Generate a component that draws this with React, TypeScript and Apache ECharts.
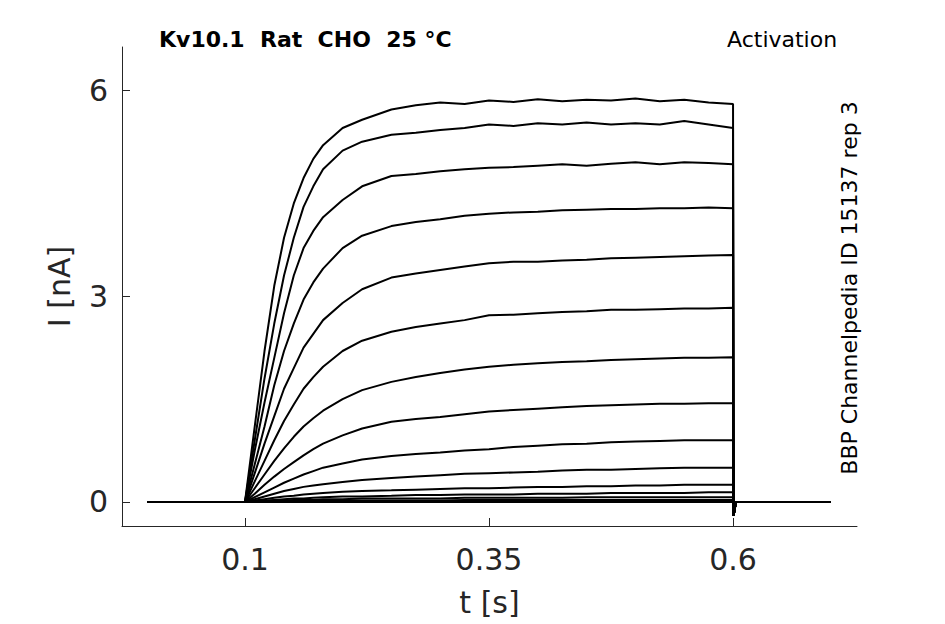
import { useEffect, useRef } from 'react';
import * as echarts from 'echarts';

const times = [
  0, 0.05, 0.1, 0.11, 0.12, 0.13, 0.14, 0.15, 0.16, 0.17, 0.18, 0.2, 0.22, 0.25,
  0.275, 0.3, 0.325, 0.35, 0.375, 0.4, 0.425, 0.45, 0.475, 0.5, 0.525, 0.55, 0.575, 0.6,
];

// current (nA) per voltage step, top trace first
const trace1 = [0, 0, 0, 1.1, 2.2, 3.15, 3.85, 4.35, 4.72, 5.0, 5.2, 5.45, 5.57, 5.72, 5.78, 5.82, 5.8, 5.85, 5.83, 5.87, 5.84, 5.86, 5.85, 5.88, 5.84, 5.86, 5.82, 5.8];
const trace2 = [0, 0, 0, 0.9, 1.8, 2.6, 3.3, 3.85, 4.3, 4.6, 4.85, 5.12, 5.25, 5.35, 5.38, 5.42, 5.45, 5.5, 5.48, 5.52, 5.5, 5.53, 5.5, 5.52, 5.5, 5.55, 5.5, 5.45];
const trace3 = [0, 0, 0, 0.75, 1.45, 2.1, 2.75, 3.3, 3.7, 3.95, 4.15, 4.4, 4.6, 4.75, 4.78, 4.82, 4.85, 4.87, 4.88, 4.9, 4.92, 4.9, 4.93, 4.95, 4.92, 4.95, 4.94, 4.92];
const trace4 = [0, 0, 0, 0.55, 1.1, 1.7, 2.2, 2.6, 2.95, 3.2, 3.4, 3.7, 3.88, 4.02, 4.08, 4.12, 4.17, 4.2, 4.22, 4.23, 4.25, 4.26, 4.27, 4.27, 4.28, 4.28, 4.29, 4.28];
const trace5 = [0, 0, 0, 0.42, 0.85, 1.25, 1.65, 1.95, 2.25, 2.45, 2.65, 2.9, 3.1, 3.27, 3.33, 3.38, 3.43, 3.48, 3.5, 3.5, 3.52, 3.53, 3.55, 3.56, 3.57, 3.58, 3.59, 3.6];
const trace6 = [0, 0, 0, 0.3, 0.6, 0.9, 1.18, 1.42, 1.65, 1.82, 1.97, 2.2, 2.35, 2.48, 2.55, 2.6, 2.65, 2.72, 2.73, 2.75, 2.77, 2.78, 2.8, 2.8, 2.81, 2.82, 2.82, 2.83];
const trace7 = [0, 0, 0, 0.2, 0.4, 0.6, 0.78, 0.95, 1.1, 1.22, 1.33, 1.5, 1.63, 1.75, 1.82, 1.88, 1.93, 1.97, 2.0, 2.02, 2.04, 2.05, 2.07, 2.08, 2.09, 2.1, 2.1, 2.11];
const trace8 = [0, 0, 0, 0.12, 0.25, 0.37, 0.48, 0.58, 0.68, 0.77, 0.85, 0.97, 1.07, 1.17, 1.21, 1.24, 1.28, 1.32, 1.34, 1.36, 1.38, 1.4, 1.41, 1.42, 1.43, 1.43, 1.44, 1.44];
const trace9 = [0, 0, 0, 0.07, 0.14, 0.21, 0.28, 0.34, 0.4, 0.45, 0.5, 0.56, 0.62, 0.67, 0.7, 0.72, 0.75, 0.77, 0.8, 0.82, 0.84, 0.85, 0.87, 0.88, 0.89, 0.9, 0.9, 0.9];
const trace10 = [0, 0, 0, 0.04, 0.08, 0.12, 0.16, 0.19, 0.22, 0.24, 0.26, 0.29, 0.32, 0.35, 0.37, 0.39, 0.41, 0.42, 0.43, 0.44, 0.46, 0.47, 0.47, 0.48, 0.49, 0.5, 0.5, 0.5];
const trace11 = [0, 0, 0, 0.02, 0.04, 0.06, 0.08, 0.09, 0.11, 0.12, 0.13, 0.15, 0.16, 0.17, 0.18, 0.19, 0.2, 0.2, 0.21, 0.22, 0.22, 0.23, 0.23, 0.24, 0.24, 0.25, 0.25, 0.25];
const trace12 = [0, 0, 0, 0.01, 0.02, 0.03, 0.04, 0.05, 0.05, 0.06, 0.07, 0.08, 0.08, 0.09, 0.1, 0.1, 0.11, 0.11, 0.11, 0.12, 0.12, 0.12, 0.13, 0.13, 0.13, 0.13, 0.14, 0.14];
const trace13 = [0, 0, 0, 0.01, 0.01, 0.02, 0.02, 0.03, 0.03, 0.03, 0.04, 0.04, 0.05, 0.05, 0.05, 0.05, 0.06, 0.06, 0.06, 0.06, 0.06, 0.07, 0.07, 0.07, 0.07, 0.07, 0.07, 0.07];
const trace14 = [0, 0, 0, 0, 0.01, 0.01, 0.01, 0.01, 0.01, 0.02, 0.02, 0.02, 0.02, 0.02, 0.02, 0.02, 0.03, 0.03, 0.03, 0.03, 0.03, 0.03, 0.03, 0.03, 0.03, 0.03, 0.03, 0.03];
const trace15 = [0, 0, 0, 0, 0, 0, 0, 0, 0.01, 0.01, 0.01, 0.01, 0.01, 0.01, 0.01, 0.01, 0.01, 0.01, 0.01, 0.01, 0.01, 0.01, 0.01, 0.01, 0.01, 0.01, 0.01, 0.01];
const trace16 = [0, 0, 0, 0, 0, 0, 0, 0, 0, 0, 0, 0, 0, 0, 0, 0, 0, 0, 0, 0, 0, 0, 0, 0, 0, 0, 0, 0];
const traces = [trace1, trace2, trace3, trace4, trace5, trace6, trace7, trace8, trace9, trace10, trace11, trace12, trace13, trace14, trace15, trace16];

// after the step: capacitive spike, then back to baseline
const tailTimes = [0.6005, 0.603, 0.65, 0.7];
const tailValues = [-0.2, 0, 0, 0];

const xTicks = [0.1, 0.35, 0.6];
const yTicks = [0, 3, 6];

export default function App() {
  const chartRef = useRef<HTMLDivElement>(null);

  useEffect(() => {
    document.body.style.margin = '0';
    if (!chartRef.current) return;
    const chart = echarts.init(chartRef.current, null, { renderer: 'svg' });

    const axisColor = '#262626';
    const font = 'DejaVu Sans';

    const series = traces.map((vals) => ({
      type: 'line',
      showSymbol: false,
      silent: true,
      data: [
        ...times.map((t, i) => [t, vals[i]]),
        ...tailTimes.map((t, i) => [t, tailValues[i]]),
      ],
      lineStyle: { color: '#000', width: 2 },
    }));

    chart.setOption({
      animation: false,
      grid: { left: 122, right: 88, top: 47, bottom: 98 },
      xAxis: {
        type: 'value',
        min: -0.026,
        max: 0.727,
        name: 't [s]',
        nameLocation: 'middle',
        nameGap: 61,
        nameTextStyle: { fontFamily: font, fontSize: 30, color: axisColor },
        axisLine: { show: true, onZero: false, lineStyle: { color: axisColor, width: 1 } },
        axisTick: { show: true, inside: true, length: 8, customValues: xTicks, lineStyle: { color: axisColor } },
        axisLabel: { customValues: xTicks, margin: 18, fontFamily: font, fontSize: 30, color: axisColor },
        splitLine: { show: false },
      },
      yAxis: {
        type: 'value',
        min: -0.35,
        max: 6.63,
        name: 'I [nA]',
        nameLocation: 'middle',
        nameRotate: 90,
        nameGap: 48,
        nameTextStyle: { fontFamily: font, fontSize: 30, color: axisColor },
        axisLine: { show: true, onZero: false, lineStyle: { color: axisColor, width: 1 } },
        axisTick: { show: true, inside: true, length: 8, customValues: yTicks, lineStyle: { color: axisColor } },
        axisLabel: { customValues: yTicks, margin: 14, fontFamily: font, fontSize: 30, color: axisColor },
        splitLine: { show: false },
      },
      graphic: [
        {
          type: 'text',
          x: 159,
          y: 39,
          style: {
            text: 'Kv10.1\u00a0\u00a0Rat\u00a0\u00a0CHO\u00a0\u00a025\u00a0°C',
            fontFamily: font,
            fontWeight: 'bold',
            fontSize: 22,
            fill: '#000',
            textAlign: 'left',
            textVerticalAlign: 'middle',
          },
        },
        {
          type: 'text',
          x: 727,
          y: 39,
          style: {
            text: 'Activation',
            fontFamily: font,
            fontSize: 22,
            fill: '#000',
            textAlign: 'left',
            textVerticalAlign: 'middle',
          },
        },
        {
          type: 'text',
          x: 849,
          y: 288,
          rotation: Math.PI / 2,
          style: {
            text: 'BBP Channelpedia ID 15137 rep 3',
            fontFamily: font,
            fontSize: 22,
            fill: '#000',
            textAlign: 'center',
            textVerticalAlign: 'middle',
          },
        },
      ],
      series,
    });

    return () => {
      chart.dispose();
    };
  }, []);

  return <div ref={chartRef} style={{ width: '945px', height: '624px' }}></div>;
}
